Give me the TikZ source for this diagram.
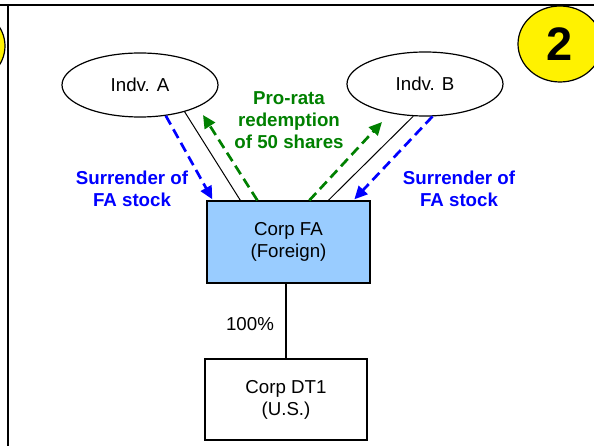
\documentclass[tikz,border=0pt]{standalone}
\usepackage{fontspec}
\setmainfont{Liberation Sans}
\usetikzlibrary{shapes.geometric,arrows.meta}
\definecolor{boxblue}{RGB}{153,204,255}
\definecolor{lblblue}{RGB}{0,0,255}
\definecolor{lblgreen}{RGB}{0,128,0}
\tikzset{
  txt/.style={font=\fontsize{18.7}{22}\selectfont, align=center},
  bold/.style={font=\fontsize{18.7}{22}\selectfont\bfseries, align=center},
  person/.style={ellipse, draw, line width=1.2pt, minimum width=156pt, minimum height=64pt, inner sep=0pt, txt},
  corp/.style={rectangle, draw, line width=1.3pt, inner sep=0pt, txt},
  own/.style={line width=1pt},
  flowarrow/.style={line width=2.7pt, dash pattern=on 10pt off 5.5pt, -{Triangle[length=13pt,width=12pt]}},
  badge/.style={ellipse, draw, line width=1.2pt, fill=yellow, inner sep=0pt},
}
\begin{document}
\begin{tikzpicture}[x=1pt,y=-1pt]
\useasboundingbox (0,0) rectangle (594,446);
\clip (0,0) rectangle (594,446);
% badges
\node[badge, minimum width=70pt, minimum height=70pt] (c1) at (-30,46) {};
\node[badge, minimum width=84pt, minimum height=76pt, font=\fontsize{47}{47}\selectfont\bfseries] (c2) at (560,44) {2};
% frame
\coordinate (tl) at (0,5);
\coordinate (tr) at (594,5);
\coordinate (vt) at (8,5);
\coordinate (vb) at (8,446);
\draw[line width=2.2pt] (tl) -- (tr);
\draw[line width=2.2pt] (vt) -- (vb);
% nodes
\node[person] (A) at (140,85) {Indv. A};
\node[person] (B) at (425,84) {Indv. B};
\node[corp, fill=boxblue, minimum width=163pt, minimum height=82pt] (FA) at (288.5,242) {Corp FA\\(Foreign)};
\node[corp, fill=white, minimum width=162pt, minimum height=81pt] (DT1) at (286,399.5) {Corp DT1\\(U.S.)};
% ownership lines
\draw[own] (A.-31) -- ([xshift=34pt]FA.north west);
\draw[own] (B.-110) -- ([xshift=122pt]FA.north west);
\draw[line width=2pt] (DT1.north |- FA.south) -- (DT1.north);
\node[txt] (pct) at (250,324) {100\%};
% surrender arrows
\draw[flowarrow, lblblue] (A.-50) -- ([xshift=6pt,yshift=1pt]FA.north west);
\draw[flowarrow, lblblue] (B.-77) -- ([xshift=148pt,yshift=1pt]FA.north west);
% redemption arrows
\coordinate (gA) at (203,115);
\coordinate (gB) at (382,122);
\draw[flowarrow, lblgreen] ([xshift=51pt]FA.north west) -- (gA);
\draw[flowarrow, lblgreen] ([xshift=103pt]FA.north west) -- (gB);
% labels
\node[bold, text=lblblue] (sl) at (132,189) {Surrender of\\FA stock};
\node[bold, text=lblblue] (sr) at (459,189) {Surrender of\\FA stock};
\node[bold, text=lblgreen] (pr) at (289,120) {Pro-rata\\redemption\\of 50 shares};
\end{tikzpicture}
\end{document}
